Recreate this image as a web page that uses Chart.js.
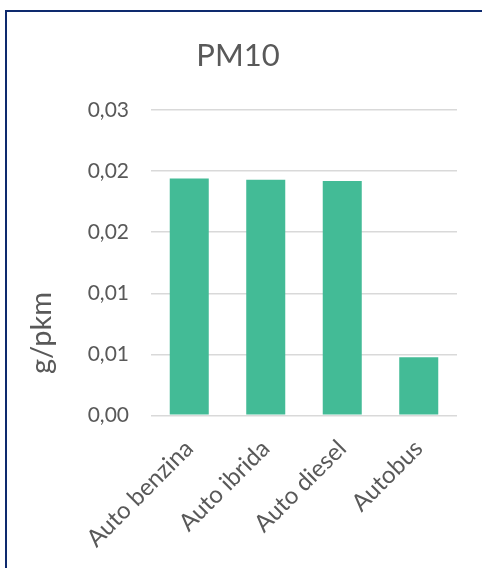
<!DOCTYPE html>
<html>
<head>
<meta charset="utf-8">
<script src="https://cdn.jsdelivr.net/npm/chart.js@4"></script>
<style>
  html, body { margin: 0; padding: 0; background: #fff; }
  #wrap { position: relative; width: 482px; height: 568px; overflow: hidden; }
  #frame { position: absolute; left: 5px; top: 10px; width: 600px; height: 700px;
           border-top: 2px solid #0e2a6e; border-left: 2px solid #0e2a6e; pointer-events: none; }
  canvas { position: absolute; left: 0; top: 0; }
</style>
</head>
<body>
<div id="wrap">
  <canvas id="pmChart" width="482" height="568"></canvas>
  <div id="frame"></div>
</div>
<script>
// ---------------- DATA ----------------
const vehicles = ["Auto benzina", "Auto ibrida", "Auto diesel", "Autobus"];
const pm10Values = [0.0194, 0.0193, 0.0192, 0.00475];
const yTickLabels = ["0,00", "0,01", "0,01", "0,02", "0,02", "0,03"];
const yAxisTitle = "g/pkm";

const grey = "#595959";
const font = "Lato, 'Open Sans', sans-serif";

// Excel puts the axis title lower than the middle of the plot
const yTitlePlugin = {
    id: "yTitle",
    afterDraw(chart) {
        const { ctx, chartArea } = chart;
        const y = chartArea.top + 0.73 * (chartArea.bottom - chartArea.top);
        ctx.save();
        ctx.translate(42, y);
        ctx.rotate(-Math.PI / 2);
        ctx.fillStyle = grey;
        ctx.font = "29px " + font;
        ctx.textAlign = "center";
        ctx.textBaseline = "middle";
        ctx.fillText(yAxisTitle, 0, 0);
        ctx.restore();
    }
};

new Chart(document.getElementById("pmChart"), {
    type: "bar",
    data: {
        labels: vehicles,
        datasets: [{
            label: "PM10",
            data: pm10Values,
            backgroundColor: "#43bb96",
            barPercentage: 1,
            categoryPercentage: 0.51
        }]
    },
    options: {
        responsive: false,
        animation: false,
        layout: { padding: { left: 19, right: 25, top: 29, bottom: 4 } },
        plugins: {
            legend: { display: false },
            tooltip: { enabled: false },
            title: {
                display: true,
                text: "PM10",
                color: grey,
                font: { family: font, size: 31, weight: "normal" },
                padding: { top: 8, bottom: 36 }
            }
        },
        scales: {
            y: {
                min: 0,
                max: 0.025,
                afterFit(scale) { scale.width = 132; },  // room for the axis title
                border: { display: false },
                grid: { color: "#d9d9d9", lineWidth: 1.5, drawTicks: false },
                ticks: {
                    stepSize: 0.005,
                    padding: 22,
                    color: grey,
                    font: { family: font, size: 21 },
                    callback: (v, i) => yTickLabels[i]
                }
            },
            x: {
                border: { display: false },
                grid: { display: false },
                ticks: {
                    maxRotation: 45,
                    minRotation: 45,
                    padding: 11,
                    color: grey,
                    font: { family: font, size: 24 }
                }
            }
        }
    },
    plugins: [yTitlePlugin]
});
</script>
</body>
</html>
